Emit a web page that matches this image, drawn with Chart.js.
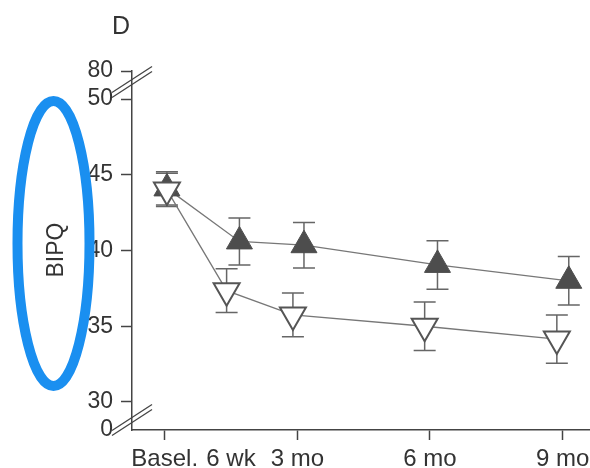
<!DOCTYPE html>
<html>
<head>
<meta charset="utf-8">
<script src="https://cdn.jsdelivr.net/npm/chart.js@4"></script>
<style>
  body { margin: 0; background: #fff; }
  #wrap { width: 590px; height: 468px; }
</style>
</head>
<body>
<div id="wrap"><canvas id="grafico" width="590" height="468"></canvas></div>
<script>
// x = time in months, tick labels placed on the same scale
const tickMonths = [0, 1.5, 3, 6, 9];
const tickLabels = ['Basel.', '6 wk', '3 mo', '6 mo', '9 mo'];

// filled triangles (up)
const filledX = [0.05, 1.69, 3.15, 6.17, 9.14];
const filledY = [44.1, 40.6, 40.35, 39.05, 38.0];
const filledErr = [1.1, 1.55, 1.5, 1.6, 1.6];

// open triangles (down)
const openX = [0.05, 1.4, 2.9, 5.88, 8.87];
const openY = [44.0, 37.35, 35.75, 35.0, 34.15];
const openErr = [1.1, 1.45, 1.45, 1.6, 1.6];

// broken y axis: 0 and 80 sit at the ends, 30..50 in between
const yTicks = [30, 35, 40, 45, 50];
const yBreakLow = 28.15;   // shown as "0"
const yBreakHigh = 51.85;  // shown as "80"

const FONT = 'Liberation Sans, Arial, Helvetica, sans-serif';
const INK = '#444';

const pontos = (xs, ys) => xs.map((x, i) => ({ x: x, y: ys[i] }));

const barrasErro = {
  id: 'barrasErro',
  beforeDatasetsDraw(chart) {
    const ctx = chart.ctx;
    const xs = chart.scales.x, ys = chart.scales.y;
    const series = [[filledX, filledY, filledErr], [openX, openY, openErr]];
    ctx.save();
    ctx.strokeStyle = '#666';
    ctx.lineWidth = 1.5;
    series.forEach(([xv, yv, ev]) => {
      xv.forEach((x, i) => {
        const px = xs.getPixelForValue(x);
        const top = ys.getPixelForValue(yv[i] + ev[i]);
        const bot = ys.getPixelForValue(yv[i] - ev[i]);
        ctx.beginPath();
        ctx.moveTo(px, top); ctx.lineTo(px, bot);
        ctx.moveTo(px - 11, top); ctx.lineTo(px + 11, top);
        ctx.moveTo(px - 11, bot); ctx.lineTo(px + 11, bot);
        ctx.stroke();
      });
    });
    ctx.restore();
  }
};

const enfeites = {
  id: 'enfeites',
  afterDraw(chart) {
    const ctx = chart.ctx;
    const ys = chart.scales.y;
    const axX = chart.chartArea.left;
    ctx.save();

    // axis break slashes
    const quebra = (cy) => {
      ctx.strokeStyle = INK;
      ctx.lineWidth = 1.3;
      [-2.5, 2.5].forEach(d => {
        ctx.beginPath();
        ctx.moveTo(axX - 20, cy + d + 13);
        ctx.lineTo(axX + 20, cy + d - 13);
        ctx.stroke();
      });
    };
    quebra((ys.getPixelForValue(50) + ys.getPixelForValue(yBreakHigh)) / 2 - 3);
    quebra((ys.getPixelForValue(30) + ys.getPixelForValue(yBreakLow)) / 2 + 4);

    // panel letter
    ctx.fillStyle = '#333';
    ctx.font = '25px ' + FONT;
    ctx.textAlign = 'center';
    ctx.textBaseline = 'middle';
    ctx.fillText('D', 121, 27);

    // y title
    ctx.save();
    ctx.translate(57, 250);
    ctx.rotate(-Math.PI / 2);
    ctx.font = '23px ' + FONT;
    ctx.fillText('BIPQ', 0, 0);
    ctx.restore();

    // blue highlight ellipse
    ctx.strokeStyle = '#1a8ff0';
    ctx.lineWidth = 10;
    ctx.beginPath();
    ctx.ellipse(53.5, 243.5, 36, 142.5, 0, 0, Math.PI * 2);
    ctx.stroke();

    ctx.restore();
  }
};

new Chart(document.getElementById('grafico'), {
  type: 'line',
  data: {
    datasets: [
      {
        data: pontos(openX, openY),
        borderColor: '#777',
        borderWidth: 1.3,
        pointStyle: 'triangle',
        rotation: 180,
        pointRadius: 15,
        pointBackgroundColor: '#fff',
        pointBorderColor: '#555',
        pointBorderWidth: 2
      },
      {
        data: pontos(filledX, filledY),
        borderColor: '#777',
        borderWidth: 1.3,
        pointStyle: 'triangle',
        pointRadius: 15,
        pointBackgroundColor: '#4d4d4d',
        pointBorderColor: '#4d4d4d',
        pointBorderWidth: 1
      }
    ]
  },
  options: {
    responsive: false,
    animation: false,
    devicePixelRatio: 1,
    layout: { autoPadding: false, padding: { top: 71, left: 0, right: 0, bottom: 0 } },
    plugins: { legend: { display: false }, tooltip: { enabled: false } },
    scales: {
      x: {
        type: 'linear',
        min: -0.74,
        max: 9.62,
        afterBuildTicks: s => { s.ticks = tickMonths.map(v => ({ value: v })); },
        afterFit: s => { s.height = 38; s.paddingLeft = 0; s.paddingRight = 0; },
        border: { display: true, color: INK, width: 1.5 },
        grid: {
          drawOnChartArea: false,
          tickLength: 10,
          tickWidth: 1.5,
          color: c => (c.tick && c.tick.value === 1.5) ? 'rgba(0,0,0,0)' : INK
        },
        ticks: {
          autoSkip: false,
          maxRotation: 0,
          padding: 5,
          color: '#333',
          font: { family: FONT, size: 24 },
          callback: v => tickLabels[tickMonths.indexOf(v)]
        }
      },
      y: {
        type: 'linear',
        min: yBreakLow,
        max: yBreakHigh,
        afterBuildTicks: s => {
          s.ticks = [yBreakLow, ...yTicks, yBreakHigh].map(v => ({ value: v }));
        },
        afterFit: s => { s.width = 132; s.paddingTop = 0; s.paddingBottom = 0; },
        border: { display: true, color: INK, width: 1.5 },
        grid: {
          drawOnChartArea: false,
          tickLength: 11,
          tickWidth: 1.5,
          color: c => (c.tick && c.tick.value === yBreakLow) ? 'rgba(0,0,0,0)' : INK
        },
        ticks: {
          padding: 8,
          color: '#333',
          font: { family: FONT, size: 23 },
          callback: v => v === yBreakLow ? '0' : v === yBreakHigh ? '80' : v
        }
      }
    }
  },
  plugins: [barrasErro, enfeites]
});
</script>
</body>
</html>
